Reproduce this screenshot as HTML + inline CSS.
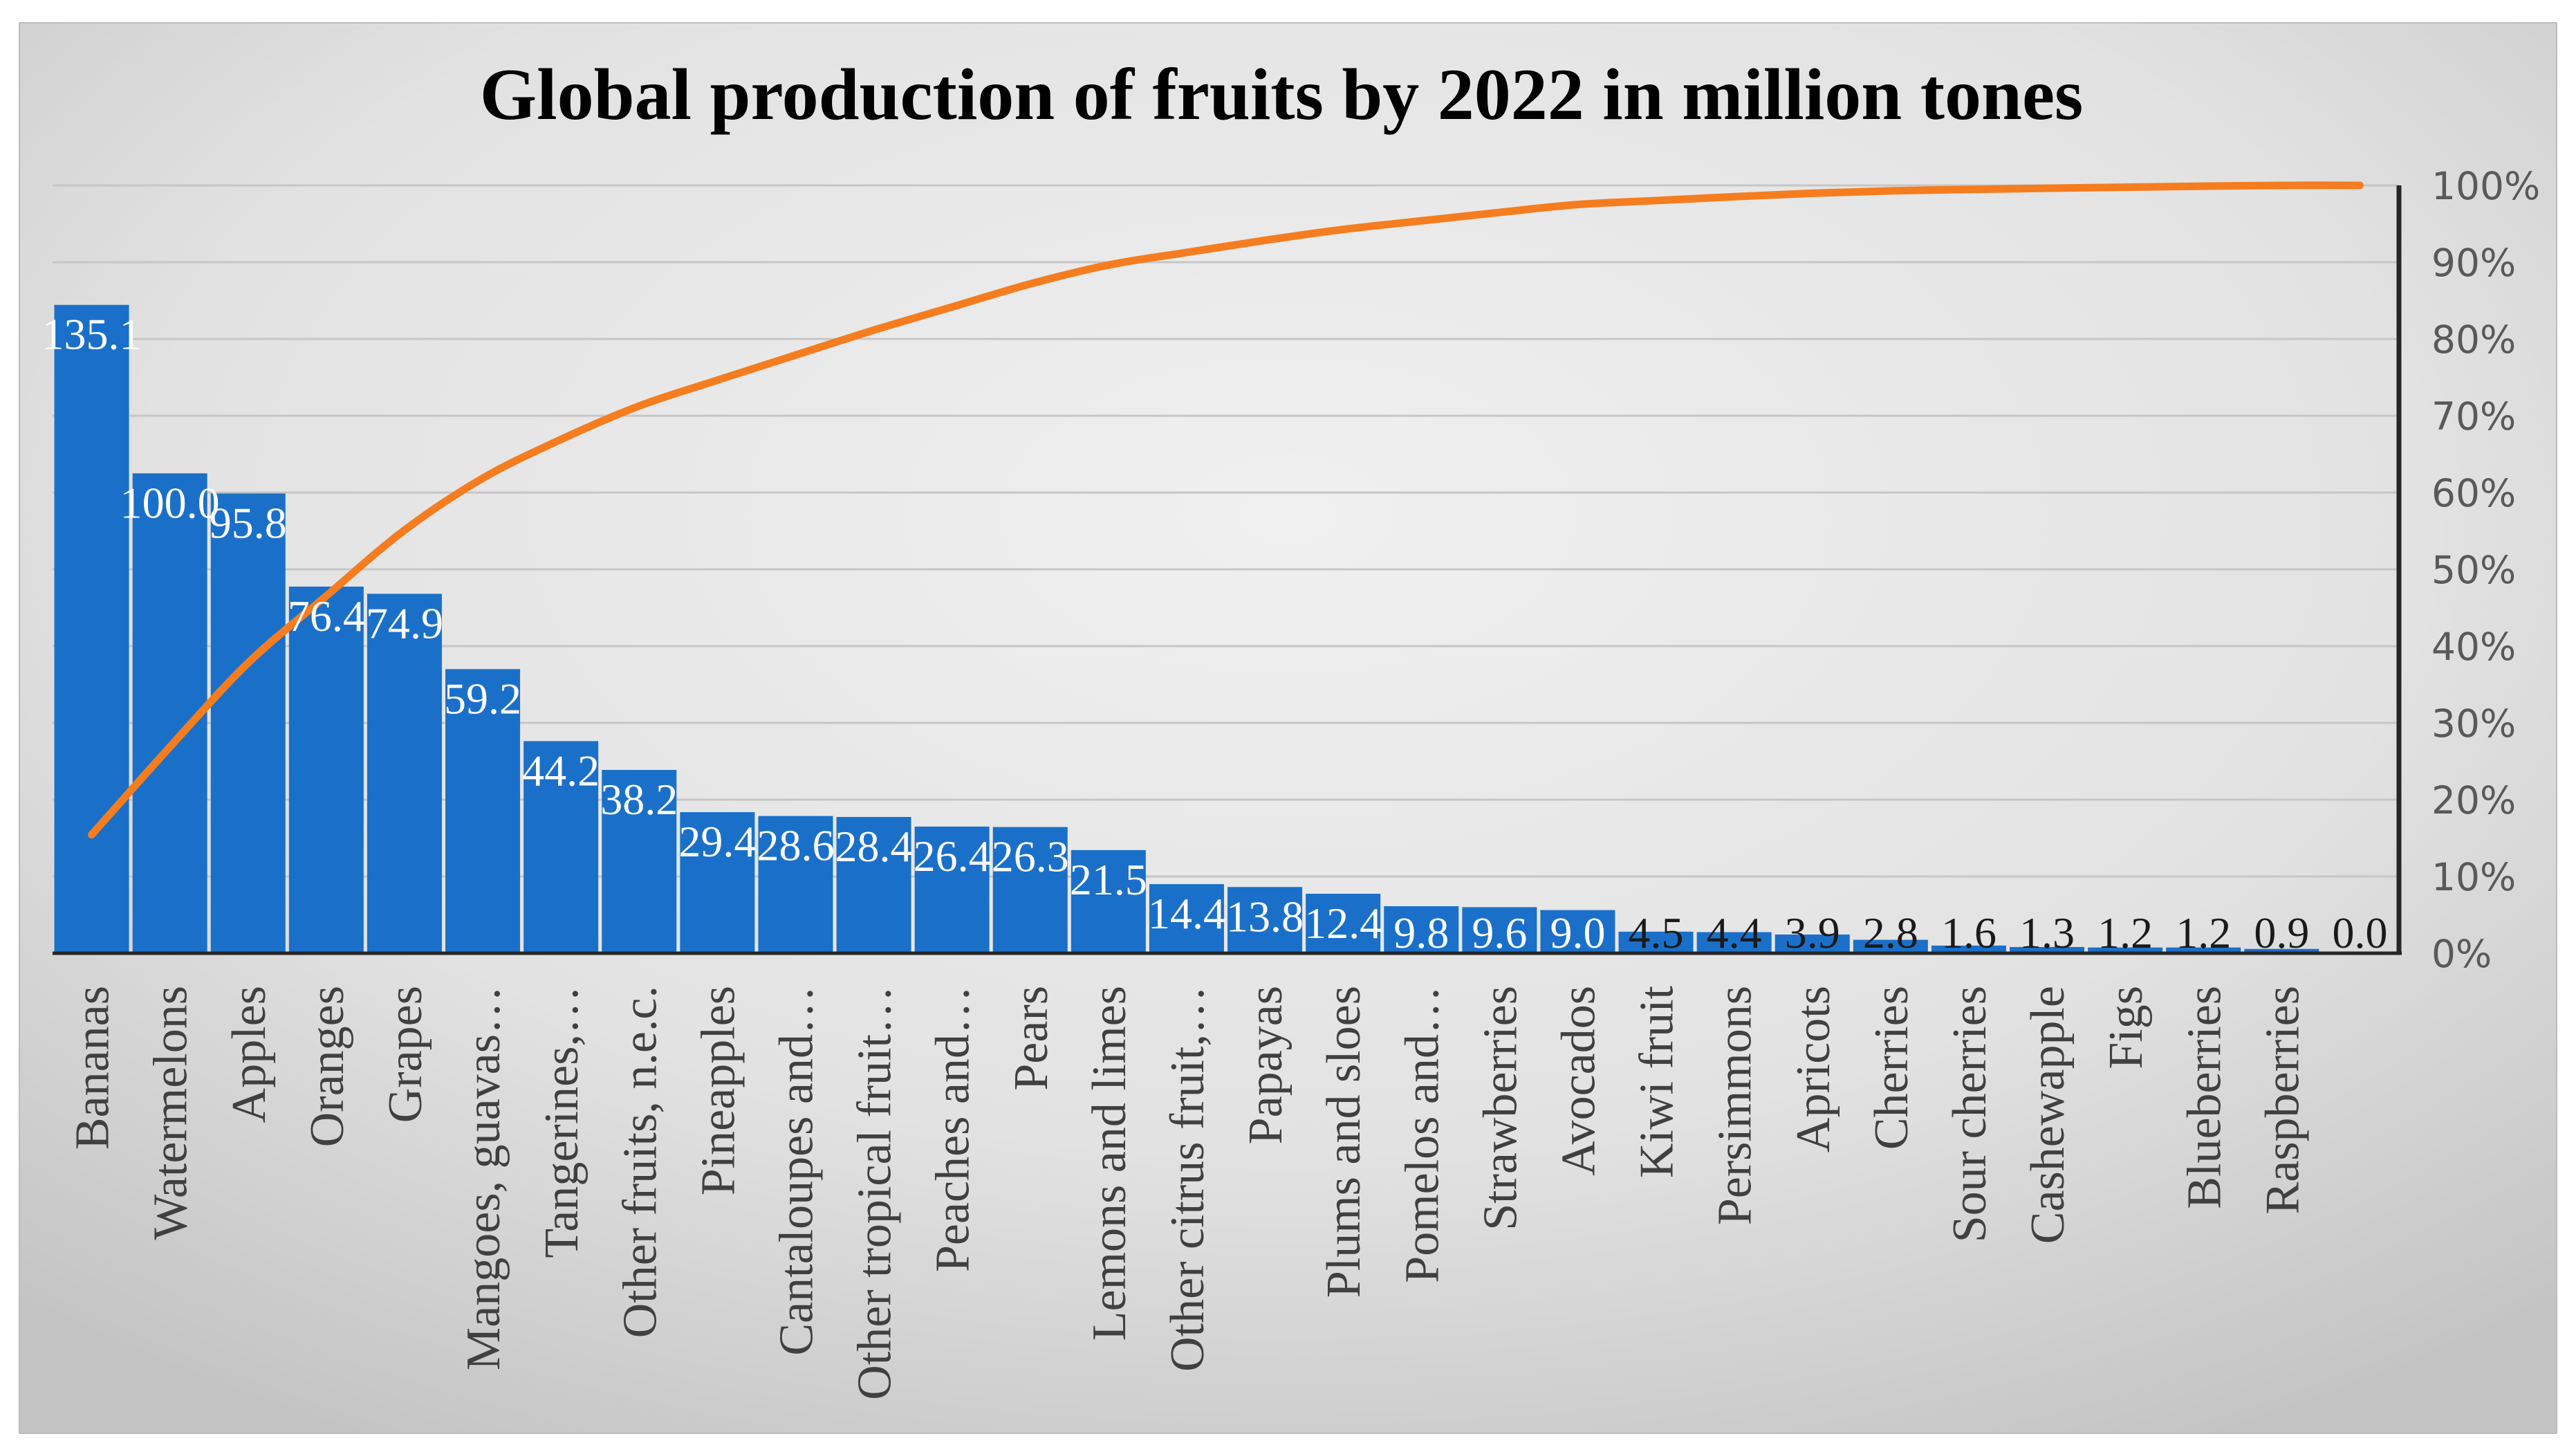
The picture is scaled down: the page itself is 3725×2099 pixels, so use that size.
<!DOCTYPE html>
<html><head><meta charset="utf-8">
<style>
html,body{margin:0;padding:0;background:#fff;}
svg{display:block;}
</style></head>
<body>
<svg id="chart" width="3725" height="2099" viewBox="0 0 3725 2099" xmlns="http://www.w3.org/2000/svg">
<defs>
<radialGradient id="bg" cx="0.5" cy="0.35" r="0.75">
<stop offset="0" stop-color="#f0f0f0"/>
<stop offset="0.6" stop-color="#e2e2e2"/>
<stop offset="1" stop-color="#c4c4c4"/>
</radialGradient>
</defs>
<rect x="28" y="33" width="3669" height="2039" fill="url(#bg)" stroke="#bdbdbd" stroke-width="2"/>
<text x="1853" y="172" text-anchor="middle" font-family="Liberation Serif, serif" font-weight="bold" font-size="106" fill="#000">Global production of fruits by 2022 in million tones</text>
<g id="grid"></g>
<g id="bars"></g>
<g id="line"></g>
<g id="axes"></g>
<g id="labels"></g>
<g id="cats"></g>
</svg>
<script>
const categories = ["Bananas","Watermelons","Apples","Oranges","Grapes","Mangoes, guavas…","Tangerines,…","Other fruits, n.e.c.","Pineapples","Cantaloupes and…","Other tropical fruit…","Peaches and…","Pears","Lemons and limes","Other citrus fruit,…","Papayas","Plums and sloes","Pomelos and…","Strawberries","Avocados","Kiwi fruit","Persimmons","Apricots","Cherries","Sour cherries","Cashewapple","Figs","Blueberries","Raspberries",""];
const values = [135.1,100.0,95.8,76.4,74.9,59.2,44.2,38.2,29.4,28.6,28.4,26.4,26.3,21.5,14.4,13.8,12.4,9.8,9.6,9.0,4.5,4.4,3.9,2.8,1.6,1.3,1.2,1.2,0.9,0.0];
const pctTicks = [0,10,20,30,40,50,60,70,80,90,100];
const valueMax = 160;

const NS="http://www.w3.org/2000/svg";
const X0=76, X1=3469, Y0=1378, Y100=268;
const n=categories.length;
const band=(X1-X0)/n;
function xC(i){return X0+band*(i+0.5);}
function yV(v){return Y0-(v/valueMax)*(Y0-Y100);}
function yP(p){return Y0-(p/100)*(Y0-Y100);}
function mk(tag,attrs,parent){const e=document.createElementNS(NS,tag);for(const k in attrs)e.setAttribute(k,attrs[k]);parent.appendChild(e);return e;}

const grid=document.getElementById('grid');
pctTicks.forEach(p=>{
  if(p===0)return;
  const l=mk('line',{x1:X0,x2:X1,y1:yP(p),y2:yP(p),stroke:'#c6c6c6','stroke-width':3},grid);
  
  
});

const bars=document.getElementById('bars');
const labels=document.getElementById('labels');
const cats=document.getElementById('cats');
const bw=band*0.955;
values.forEach((v,i)=>{
  const top=yV(v);
  const r=mk('rect',{x:xC(i)-bw/2,y:top,width:bw,height:Y0-top,fill:'#1a70c9'},bars);
  
  
  const h=Y0-top;
  const dark=h<50;
  const cy=Math.min(top+43,Y0-29);
  const t=mk('text',{x:xC(i),y:cy+21,'text-anchor':'middle','font-family':'Liberation Serif, serif','font-size':64,fill:dark?'#1a1a1a':'#ffffff'},labels);
  t.textContent=v.toFixed(1);
  
  
  if(categories[i]){
    const c=mk('text',{transform:'translate('+(xC(i)+24)+',1425) rotate(-90)','text-anchor':'end','font-family':'Liberation Serif, serif','font-size':70,fill:'#404040'},cats);
    c.textContent=categories[i];
    
    
  }
});

const total=values.reduce((a,b)=>a+b,0);
let cum=0;const pts=[];
values.forEach((v,i)=>{cum+=v;pts.push([xC(i),yP(cum/total*100)]);});
let d='M'+pts[0][0]+','+pts[0][1];
for(let i=0;i<pts.length-1;i++){
  const p0=pts[Math.max(0,i-1)],p1=pts[i],p2=pts[i+1],p3=pts[Math.min(pts.length-1,i+2)];
  const c1=[p1[0]+(p2[0]-p0[0])/6,p1[1]+(p2[1]-p0[1])/6];
  const c2=[p2[0]-(p3[0]-p1[0])/6,p2[1]-(p3[1]-p1[1])/6];
  d+=' C'+c1[0]+','+c1[1]+' '+c2[0]+','+c2[1]+' '+p2[0]+','+p2[1];
}
const line=document.getElementById('line');
const pl=mk('path',{d:d,fill:'none',stroke:'#f57d1f','stroke-width':11,'stroke-linecap':'round','stroke-linejoin':'round'},line);



const axes=document.getElementById('axes');
const bl=mk('line',{x1:X0,x2:X1+4,y1:Y0,y2:Y0,stroke:'#262626','stroke-width':5},axes);


const ra=mk('line',{x1:X1,x2:X1,y1:Y100,y2:Y0+2,stroke:'#262626','stroke-width':7},axes);


pctTicks.forEach(p=>{
  const t=mk('text',{x:3516,y:yP(p)+20,'font-family':'DejaVu Sans, sans-serif','font-size':55,fill:'#595959'},axes);
  t.textContent=p+'%';
  
  
});
</script>
</body></html>
